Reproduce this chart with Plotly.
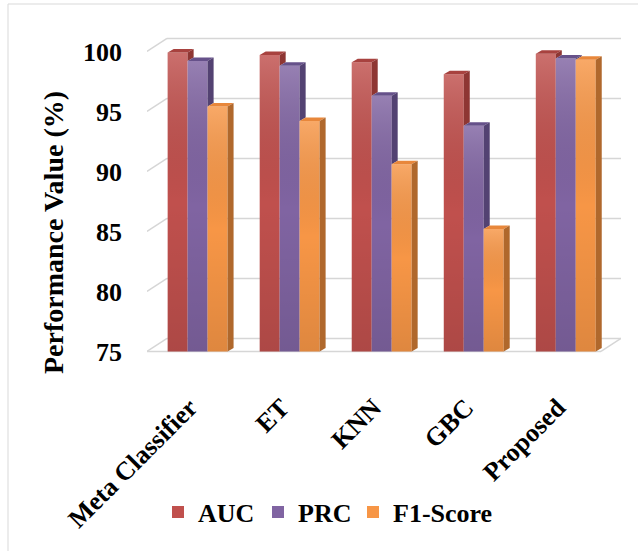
import plotly.graph_objects as go

# ---------------- data ----------------
categories = ["Meta Classifier", "ET", "KNN", "GBC", "Proposed"]
series_names = ["AUC", "PRC", "F1-Score"]
auc = [99.9, 99.7, 99.1, 98.1, 99.8]
prc = [99.2, 98.8, 96.3, 93.8, 99.4]
f1 = [95.4, 94.2, 90.6, 85.2, 99.3]
y_ticks = [75, 80, 85, 90, 95, 100]
y_title = "Performance Value (%)"

series_values = [auc, prc, f1]
front_colors = ["#C0504D", "#8064A2", "#F79646"]
top_colors = ["#A8423F", "#66518A", "#E8873B"]
side_colors = ["#8E3633", "#534272", "#B0682C"]

# ---------------- geometry / layout constants ----------------
W, H = 638, 551
ML, MR, MT, MB = 147, 17, 37, 194
PW, PH = W - ML - MR, H - MT - MB
XR = [-0.55, 4.6]
YR = [74.533, 101.2]
BASE = 75
xpx = PW / (XR[1] - XR[0])
ypx = PH / (YR[1] - YR[0])
dxw, dyw = 20 / xpx, 13 / ypx      # back wall offset
ddx, ddy = 6 / xpx, 3.5 / ypx      # bar depth
bw = 0.217                          # bar width
offsets = [-1.5 * bw + k * bw for k in range(3)]
FONT = "Liberation Serif, Times New Roman, serif"
legend_ids = ["legend", "legend2", "legend3"]
legend_left_px = [158, 258, 353]


def px_to_paper_x(p):
    return (p - ML) / PW


def px_to_paper_y(p):
    return (H - MB - p) / PH


fig = go.Figure()

# front faces (real bars)
for k, (name, vals) in enumerate(zip(series_names, series_values)):
    fig.add_trace(go.Bar(
        x=list(range(len(categories))),
        y=[v - BASE for v in vals],
        base=BASE,
        width=bw,
        offset=offsets[k],
        name=name,
        legend=legend_ids[k],
        marker=dict(color=front_colors[k], line=dict(width=0)),
        customdata=vals,
        hovertemplate="%{customdata}<extra>" + name + "</extra>",
    ))

# 3D faces: gradient overlay, top face, visible side face
for i in range(len(categories)):
    for k, vals in enumerate(series_values):
        v = vals[i]
        xl = i + offsets[k]
        xr = xl + bw
        fig.add_trace(go.Scatter(
            x=[xl, xr, xr, xl, xl], y=[BASE, BASE, v, v, BASE],
            mode="lines", line=dict(width=0), fill="toself",
            fillgradient=dict(type="vertical", colorscale=[
                [0, "rgba(0,0,0,0.10)"], [0.5, "rgba(0,0,0,0)"], [1, "rgba(255,255,255,0.18)"]]),
            showlegend=False, hoverinfo="skip"))
        fig.add_trace(go.Scatter(
            x=[xl, xr, xr + ddx, xl + ddx, xl], y=[v, v, v + ddy, v + ddy, v],
            mode="lines", line=dict(width=0), fill="toself", fillcolor=top_colors[k],
            showlegend=False, hoverinfo="skip"))
        lo = BASE if k == 2 else max(BASE, series_values[k + 1][i])
        if v > lo:
            fig.add_trace(go.Scatter(
                x=[xr, xr, xr + ddx, xr + ddx, xr], y=[lo, v, v + ddy, lo + ddy, lo],
                mode="lines", line=dict(width=0), fill="toself", fillcolor=side_colors[k],
                showlegend=False, hoverinfo="skip"))

# back wall gridlines & floor
shapes = []
gcol = "#D6D6D6"
for v in y_ticks:
    shapes.append(dict(type="line", xref="x", yref="y", layer="below",
                       x0=XR[0], y0=v, x1=XR[0] + dxw, y1=v + dyw,
                       line=dict(color=gcol, width=1.5)))
    shapes.append(dict(type="line", xref="x", yref="y", layer="below",
                       x0=XR[0] + dxw, y0=v + dyw, x1=XR[1], y1=v + dyw,
                       line=dict(color=gcol, width=1.5)))
floor_end = XR[1] - dxw
shapes.append(dict(type="line", xref="x", yref="y", layer="below",
                   x0=XR[0], y0=BASE, x1=floor_end, y1=BASE,
                   line=dict(color=gcol, width=1.5)))
shapes.append(dict(type="line", xref="x", yref="y", layer="below",
                   x0=floor_end, y0=BASE, x1=XR[1], y1=BASE + dyw,
                   line=dict(color=gcol, width=1.5)))
shapes.append(dict(type="rect", xref="paper", yref="paper",
                   x0=px_to_paper_x(8), x1=px_to_paper_x(W + 10),
                   y0=px_to_paper_y(H + 10), y1=px_to_paper_y(4),
                   line=dict(color="#D9D9D9", width=1), fillcolor="rgba(0,0,0,0)"))

legend_style = dict(orientation="h", xanchor="left", yanchor="middle",
                    y=px_to_paper_y(512), bgcolor="rgba(0,0,0,0)",
                    font=dict(family=FONT, size=26, color="black", weight="bold"),
                    itemwidth=30)
legends = {lid: dict(legend_style, x=px_to_paper_x(lx))
           for lid, lx in zip(legend_ids, legend_left_px)}

fig.update_layout(
    width=W, height=H,
    margin=dict(l=ML, r=MR, t=MT, b=MB, pad=0),
    paper_bgcolor="white", plot_bgcolor="white",
    barmode="overlay",
    shapes=shapes,
    showlegend=True,
    **legends,
    xaxis=dict(range=XR, tickmode="array", tickvals=list(range(len(categories))),
               ticktext=categories, tickangle=-45,
               showgrid=False, zeroline=False, showline=False,
               ticks="outside", ticklen=24, tickcolor="rgba(0,0,0,0)",
               ticklabelshift=-8,
               tickfont=dict(family=FONT, size=26, color="black", weight="bold")),
    yaxis=dict(range=YR, tickmode="array", tickvals=y_ticks,
               showgrid=False, zeroline=False, showline=False, ticks="",
               ticklabelstandoff=24,
               tickfont=dict(family=FONT, size=26, color="black", weight="bold")),
    annotations=[dict(text=y_title, xref="paper", yref="paper",
                      x=px_to_paper_x(53), y=px_to_paper_y(233),
                      xanchor="center", yanchor="middle", textangle=-90, showarrow=False,
                      font=dict(family=FONT, size=28, color="black", weight="bold"))],
)

fig.write_html("out.html")
